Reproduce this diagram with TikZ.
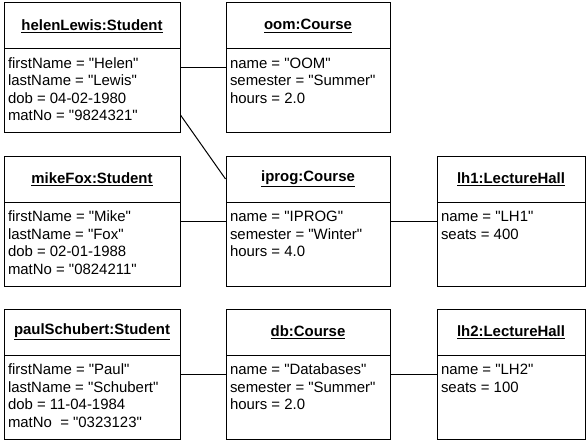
\documentclass[tikz,border=0pt]{standalone}
\usepackage{fontspec}
\setmainfont{Liberation Sans}[Ligatures=TeXOff]
\usetikzlibrary{shapes.multipart}

\newlength{\pxu}
\setlength{\pxu}{0.75pt}
% header and attribute compartments of an object box
\newcommand{\objhead}[2]{\parbox[c][45\pxu][c]{#1\pxu}{\centering\bfseries\underline{#2}}}
\newcommand{\objbody}[2]{\parbox[c][83\pxu][t]{#1\pxu}{\raggedright\rule{0pt}{19\pxu}#2}}

\tikzset{
    obj/.style={draw=black, line width=0.75pt, rectangle split, rectangle split parts=2,
        inner xsep=4\pxu, inner ysep=0pt, font=\fontsize{11.2pt}{13.125pt}\selectfont},
    link/.style={draw=black, line width=0.75pt}
}

\begin{document}
\begin{tikzpicture}[x=0.75pt, y=0.75pt]
        \useasboundingbox (0,0) rectangle (588,-442);
        % students
        \node[obj] (helen) at (92,-68) {\objhead{168}{helenLewis:Student}\nodepart{two}\objbody{168}{firstName = "Helen"\\ lastName = "Lewis"\\ dob = 04-02-1980\\ matNo = "9824321"}};
        \node[obj] (mike) at (92,-221) {\objhead{168}{mikeFox:Student}\nodepart{two}\objbody{168}{firstName = "Mike"\\ lastName = "Fox"\\ dob = 02-01-1988\\ matNo = "0824211"}};
        \node[obj] (paul) at (92,-374) {\objhead{168}{paulSchubert:Student}\nodepart{two}\objbody{168}{firstName = "Paul"\\ lastName = "Schubert"\\ dob = 11-04-1984\\ matNo\ \ = "0323123"}};
        % courses
        \node[obj] (oom) at (308,-68) {\objhead{156}{oom:Course}\nodepart{two}\objbody{156}{name = "OOM"\\ semester = "Summer"\\ hours = 2.0}};
        \node[obj] (iprog) at (308,-221) {\objhead{156}{iprog:Course}\nodepart{two}\objbody{156}{name = "IPROG"\\ semester = "Winter"\\ hours = 4.0}};
        \node[obj] (db) at (308,-374) {\objhead{156}{db:Course}\nodepart{two}\objbody{156}{name = "Databases"\\ semester = "Summer"\\ hours = 2.0}};
        % lecture halls
        \node[obj] (lh1) at (511,-221) {\objhead{140}{lh1:LectureHall}\nodepart{two}\objbody{140}{name = "LH1"\\ seats = 400}};
        \node[obj] (lh2) at (511,-374) {\objhead{140}{lh2:LectureHall}\nodepart{two}\objbody{140}{name = "LH2"\\ seats = 100}};
        % links
        \draw[link] (helen) -- (oom);
        \draw[link] (helen.-28) -- (iprog.153);
        \draw[link] (mike) -- (iprog);
        \draw[link] (iprog) -- (lh1);
        \draw[link] (paul) -- (db);
        \draw[link] (db) -- (lh2);
    \end{tikzpicture}
\end{document}
